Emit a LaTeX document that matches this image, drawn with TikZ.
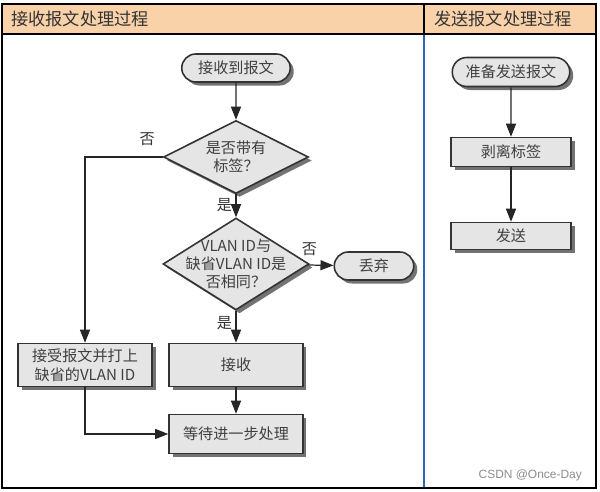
\documentclass[tikz,border=0pt]{standalone}
\usepackage{fontspec}
\newfontfamily\cjk{Noto Sans CJK SC}
\newfontfamily\wmfont{Liberation Sans}
\usetikzlibrary{shapes.geometric,shapes.misc,arrows.meta,shadows}

\definecolor{headfill}{HTML}{F9D2AA}
\definecolor{laneblue}{HTML}{2F62B4}

\tikzset{
  box/.style={draw=black!80, line width=0.9pt, fill=black!10, text=black!75,
    font=\cjk\fontsize{8.6}{10.5}\selectfont, align=center, inner sep=1pt,
    drop shadow={shadow xshift=2pt, shadow yshift=-2pt, fill=black!55, opacity=1}},
  pill/.style={box, rounded rectangle},
  decision/.style={box, diamond, inner sep=0pt},
  txt/.style={text=black!75, font=\cjk\fontsize{8.6}{10.5}\selectfont, align=center},
  lbl/.style={text=black!80, font=\cjk\fontsize{8.6}{10}\selectfont, inner sep=2pt},
  head/.style={text=black!80, font=\cjk\fontsize{9.8}{12}\selectfont, anchor=west},
  flow/.style={-{Triangle[length=0.26cm,width=0.2cm]}, line width=0.7pt, draw=black!85}
}

\begin{document}
\begin{tikzpicture}[x=0.02cm,y=-0.02cm]
    \useasboundingbox (0,0) rectangle (600,492);

    % lanes
    \fill[headfill] (2,4) rectangle (596,34);
    \draw[laneblue, line width=1.4pt] (424,34) -- (424,488);
    \draw[line width=1.3pt] (2,34) -- (596,34);
    \draw[line width=1.3pt] (424,4) -- (424,34);
    \draw[line width=1.5pt] (2,4) rectangle (596,488);
    \node[head] (hrecv) at (5,19) {接收报文处理过程};
    \node[head] (hsend) at (428,19) {发送报文处理过程};

    % receive side
    \node[pill, minimum width=2.24cm, minimum height=0.56cm] (recv) at (236,68) {接收到报文};
    \node[decision, minimum width=2.9cm, minimum height=1.46cm] (tag) at (236,157) {};
    \node[txt] (tagtext) at (tag) {是否带有\\标签？};
    \node[decision, minimum width=2.92cm, minimum height=1.84cm] (vid) at (236,264) {};
    \node[txt] (vidtext) at (vid) {VLAN ID与\\缺省VLAN ID是\\否相同？};
    \node[pill, minimum width=1.66cm, minimum height=0.56cm] (drop) at (374,266) {丢弃};
    \node[box, minimum width=2.68cm, minimum height=0.86cm] (accept) at (236,365) {接收};
    \node[box, minimum width=2.68cm, minimum height=0.86cm] (addtag) at (85,365) {接受报文并打上\\缺省的VLAN ID};
    \node[box, minimum width=2.68cm, minimum height=0.78cm] (wait) at (236,434) {等待进一步处理};

    % send side
    \node[pill, minimum width=2.42cm, minimum height=0.58cm] (prep) at (511,72) {准备发送报文};
    \node[box, minimum width=2.4cm, minimum height=0.58cm] (strip) at (511,152) {剥离标签};
    \node[box, minimum width=2.4cm, minimum height=0.54cm] (send) at (511,236) {发送};

    \draw[flow] (recv) -- (tag);
    \draw[flow] (tag) -- node[lbl, left, pos=0.45] {是} (vid);
    \draw[flow] (vid) -- node[lbl, above=3pt, pos=0.05] {否} (drop);
    \draw[flow] (vid) -- node[lbl, left, pos=0.4] {是} (accept);
    \draw[flow] (tag.west) -| node[lbl, above=4pt, pos=0.1] {否} (addtag);
    \draw[flow] (accept) -- (wait);
    \draw[flow] (addtag) |- (wait);
    \draw[flow] (prep) -- (strip);
    \draw[flow] (strip) -- (send);

    \node[text=black!45, font=\wmfont\fontsize{6.8}{8}\selectfont, anchor=east] (mark) at (588,475) {CSDN @Once-Day};
\end{tikzpicture}
\end{document}
